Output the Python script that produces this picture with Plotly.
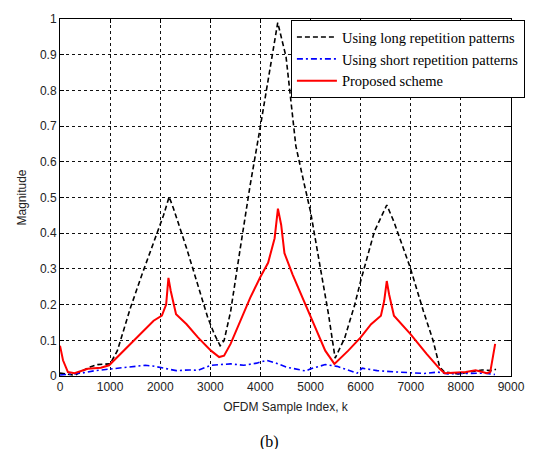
import plotly.graph_objects as go

# ---- data ----
long_k = [0, 150, 300, 430, 600, 750, 1000, 1145, 1408, 1650, 1868, 2066, 2178, 2263, 2526,
          2752, 2948, 3078, 3195, 3274, 3404, 3600, 3795, 4000, 4200, 4345, 4511, 4707, 4870,
          5000, 5195, 5358, 5490, 5680, 5880, 6000, 6274, 6521, 6664, 6990, 7251, 7446, 7577,
          7674, 7950, 8210, 8420, 8620, 8700]
long_v = [0.008, 0.004, 0.002, 0.013, 0.025, 0.032, 0.034, 0.071, 0.192, 0.29, 0.377, 0.45, 0.502, 0.47, 0.358,
          0.256, 0.164, 0.118, 0.085, 0.099, 0.18, 0.36, 0.535, 0.70, 0.87, 0.99, 0.894, 0.644, 0.54,
          0.46, 0.303, 0.173, 0.05, 0.106, 0.199, 0.266, 0.405, 0.479, 0.432, 0.303, 0.182, 0.099, 0.025,
          0.011, 0.006, 0.013, 0.017, 0.015, 0.019]

short_k = [0, 200, 430, 700, 1000, 1250, 1500, 1700, 1850, 2000, 2320, 2580, 2752, 3013, 3404, 3665,
           3925, 4120, 4316, 4511, 4707, 4902, 5000, 5293, 5530, 5800, 5930, 6030, 6330, 6740, 7000,
           7270, 7540, 7740, 8000, 8210, 8480, 8680]
short_v = [0.003, 0.006, 0.008, 0.015, 0.02, 0.024, 0.027, 0.03, 0.028, 0.024, 0.015, 0.017, 0.016, 0.03, 0.034, 0.03,
           0.036, 0.044, 0.036, 0.025, 0.02, 0.014, 0.02, 0.032, 0.027, 0.015, 0.008, 0.022, 0.015, 0.011, 0.008,
           0.007, 0.011, 0.006, 0.007, 0.007, 0.008, 0.004]

prop_k = [0, 60, 158, 290, 553, 816, 980, 1276, 1605, 1868, 2033, 2118, 2164, 2210, 2316, 2526, 2752,
          3013, 3176, 3274, 3404, 3600, 3795, 3990, 4153, 4283, 4349, 4414, 4479, 4642, 4837, 5033,
          5293, 5476, 5752, 6000, 6208, 6404, 6469, 6521, 6567, 6664, 6990, 7316, 7577, 7674, 8098,
          8293, 8521, 8586, 8684]
prop_v = [0.085, 0.044, 0.011, 0.008, 0.02, 0.023, 0.03, 0.071, 0.118, 0.155, 0.169, 0.2, 0.275, 0.238, 0.173, 0.145, 0.108,
          0.071, 0.053, 0.057, 0.09, 0.155, 0.219, 0.275, 0.317, 0.386, 0.469, 0.423, 0.344, 0.284, 0.219, 0.155,
          0.071, 0.034, 0.071, 0.108, 0.145, 0.169, 0.21, 0.266, 0.229, 0.169, 0.118, 0.062, 0.02, 0.008, 0.011,
          0.016, 0.008, 0.011, 0.09]

names = ["Using long repetition patterns", "Using short repetition patterns", "Proposed scheme"]
x_ticks = [0, 1000, 2000, 3000, 4000, 5000, 6000, 7000, 8000, 9000]
y_ticks = [0, 0.1, 0.2, 0.3, 0.4, 0.5, 0.6, 0.7, 0.8, 0.9, 1]

fig = go.Figure()
fig.add_trace(go.Scatter(x=long_k, y=long_v, mode="lines", name=names[0],
                         line=dict(color="#000000", width=1.6, dash="5px,3px")))
fig.add_trace(go.Scatter(x=short_k, y=short_v, mode="lines", name=names[1],
                         line=dict(color="#0000ff", width=1.6, dash="6px,3px,2px,3px")))
fig.add_trace(go.Scatter(x=prop_k, y=prop_v, mode="lines", name=names[2],
                         line=dict(color="#ff0000", width=2)))

axis_common = dict(showline=True, linecolor="#000", linewidth=1, mirror="ticks",
                   ticks="inside", ticklen=4, tickcolor="#000",
                   showgrid=True, gridcolor="#111", gridwidth=1, griddash="3px,3px",
                   zeroline=False, tickfont=dict(family="Liberation Sans, Arial", size=12, color="#222"))

fig.update_xaxes(range=[0, 9000], tickvals=x_ticks, **axis_common,
                 title=dict(text="OFDM Sample Index, k", standoff=9,
                            font=dict(family="Liberation Sans, Arial", size=12, color="#222")))
fig.update_yaxes(range=[0, 1], tickvals=y_ticks, ticktext=[("%g" % v) for v in y_ticks], **axis_common,
                 title=dict(text="Magnitude", standoff=10,
                            font=dict(family="Liberation Sans, Arial", size=12, color="#222")))

fig.update_layout(
    width=537, height=449,
    margin=dict(l=60, r=18, t=15, b=73),
    paper_bgcolor="white", plot_bgcolor="white",
    showlegend=True,
    legend=dict(x=0.512, y=0.997, xanchor="left", yanchor="top",
                bgcolor="white", bordercolor="#000", borderwidth=1,
                font=dict(family="Liberation Serif, Times New Roman", size=14.5, color="#000"),
                itemwidth=40, tracegroupgap=0),
    annotations=[dict(text="(b)", x=0.465, y=-0.185, xref="paper", yref="paper",
                      showarrow=False, xanchor="center", yanchor="middle",
                      font=dict(family="Liberation Serif, Times New Roman", size=16, color="#000"))],
)

fig.write_html("out.html")
